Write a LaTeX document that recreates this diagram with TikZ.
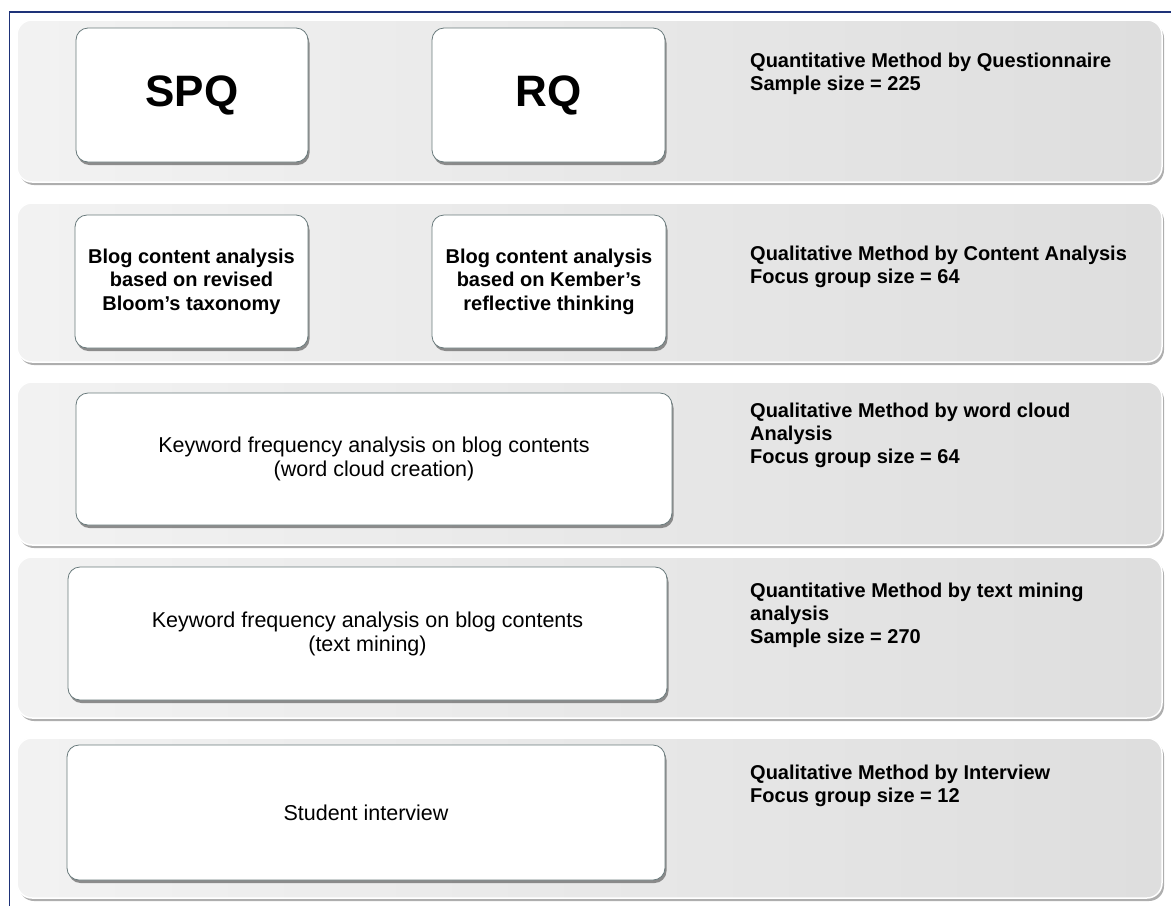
\documentclass[tikz,border=0pt]{standalone}
\usepackage{fontspec}
\setmainfont{Liberation Sans}
\usetikzlibrary{shadows}

\definecolor{framenavy}{RGB}{30,50,120}
\definecolor{cardedge}{RGB}{105,122,124}

\begin{document}
\begin{tikzpicture}[x=1pt, y=-1pt,
  band/.style={rounded corners=15pt, draw=white, line width=1.5pt, left color=black!5, right color=black!13, minimum width=1145pt, inner sep=0pt, drop shadow={shadow xshift=2pt, shadow yshift=-3pt, fill=black!45, opacity=.7}},
  card/.style={rounded corners=12pt, draw=cardedge, line width=0.8pt, fill=white, inner sep=0pt, align=center, font=\bfseries\fontsize{20}{23.5}\selectfont, drop shadow={shadow xshift=1.5pt, shadow yshift=-3pt, fill=black!55, opacity=.8}},
  cardplain/.style={card, font=\fontsize{21.5}{24}\selectfont},
  note/.style={anchor=north west, inner sep=0pt, align=left, font=\bfseries\fontsize{20}{23}\selectfont}
]

\useasboundingbox (0,0) rectangle (1171,906);
\draw[framenavy, line width=1.6pt] (9.5,906) -- (9.5,12) -- (1171,12);

% bands
\node[band, minimum height=162pt] (b1) at (589.5,101) {};
\node[band, minimum height=159pt] (b2) at (589.5,282.5) {};
\node[band, minimum height=163pt] (b3) at (589.5,463.5) {};
\node[band, minimum height=161pt] (b4) at (589.5,637.5) {};
\node[band, minimum height=160pt] (b5) at (589.5,818) {};

% boxes on the left
\node[card, minimum width=232pt, minimum height=134pt, font=\bfseries\fontsize{44}{50}\selectfont] (spq) at (192,95) {SPQ};
\node[card, minimum width=233pt, minimum height=134pt, font=\bfseries\fontsize{44}{50}\selectfont] (rq) at (548.5,95) {RQ};
\node[card, minimum width=233pt, minimum height=133pt] (bloom) at (191.5,281.5) {Blog content analysis\\based on revised\\Bloom’s taxonomy};
\node[card, minimum width=234pt, minimum height=133pt] (kember) at (549,281.5) {Blog content analysis\\based on Kember’s\\reflective thinking};
\node[cardplain, minimum width=596pt, minimum height=132pt] (kwcloud) at (374,459) {Keyword frequency analysis on blog contents\\(word cloud creation)};
\node[cardplain, minimum width=599pt, minimum height=133pt] (kwmining) at (367.5,633.5) {Keyword frequency analysis on blog contents\\(text mining)};
\node[cardplain, minimum width=598pt, minimum height=135pt] (interview) at (366,812.5) {Student interview};

% methods on the right
\node[note] (m1) at (750,53) {Quantitative Method by Questionnaire\\Sample size = 225};
\node[note] (m2) at (750,246) {Qualitative Method by Content Analysis\\Focus group size = 64};
\node[note] (m3) at (750,403) {Qualitative Method by word cloud\\Analysis\\Focus group size = 64};
\node[note] (m4) at (750,583) {Quantitative Method by text mining\\analysis\\Sample size = 270};
\node[note] (m5) at (750,765) {Qualitative Method by Interview\\Focus group size = 12};

\end{tikzpicture}
\end{document}
